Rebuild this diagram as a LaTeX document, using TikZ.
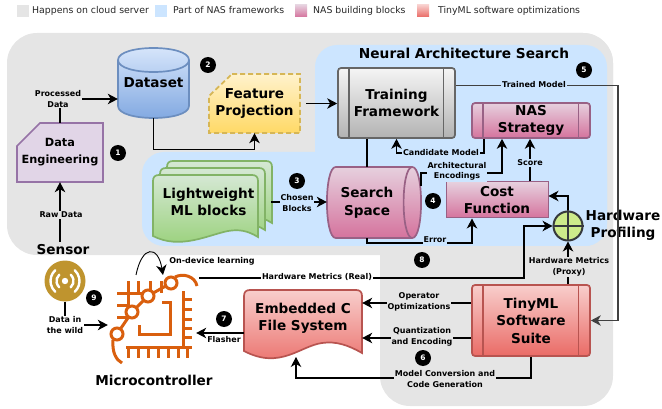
\documentclass[tikz,border=0pt]{standalone}
\usepackage{fontspec}
\setmainfont{DejaVu Sans}
\usetikzlibrary{calc}
\usetikzlibrary{arrows.meta}
\definecolor{cloudgray}{HTML}{E5E5E5}
\definecolor{nasblue}{HTML}{CCE5FF}
\definecolor{nasline}{HTML}{996185}
\definecolor{nastop}{HTML}{E6D0DE}
\definecolor{nasbot}{HTML}{D5739D}
\definecolor{tinyline}{HTML}{B85450}
\definecolor{tinytop}{HTML}{F8CECC}
\definecolor{tinybot}{HTML}{EA6B66}
\definecolor{chipcolor}{HTML}{D95F0E}
\definecolor{engfill}{HTML}{E1D5E7}
\definecolor{engline}{HTML}{9673A6}
\definecolor{settop}{HTML}{DAE8FC}
\definecolor{setbot}{HTML}{7EA6E0}
\definecolor{setline}{HTML}{6C8EBF}
\definecolor{feattop}{HTML}{FFF2CC}
\definecolor{featbot}{HTML}{FFD966}
\definecolor{featline}{HTML}{D6B656}
\definecolor{mltop}{HTML}{D5E8D4}
\definecolor{mlbot}{HTML}{97D077}
\definecolor{mlline}{HTML}{82B366}
\definecolor{addfill}{HTML}{CDEB8B}
\definecolor{addline}{HTML}{36393D}
\definecolor{sensorfill}{HTML}{BF942E}
\newcommand{\blockfont}{\fontsize{13.6pt}{17.5pt}\selectfont\bfseries}
\newcommand{\midfont}{\fontsize{11.3pt}{17pt}\selectfont\bfseries}
\newcommand{\edgefont}{\fontsize{8pt}{10.4pt}\selectfont\bfseries}
\tikzset{
  flow/.style={line width=1.1pt,-{Stealth[length=10pt,width=10.5pt,inset=3pt]}},
  plainflow/.style={line width=1.1pt},
  lbl/.style={font=\edgefont,align=center,inner sep=1pt},
  blocktxt/.style={font=\blockfont,align=center,inner sep=0pt},
  nasfill/.style={top color=nastop,bottom color=nasbot,draw=nasline,line width=1.7pt},
  tinyfill/.style={top color=tinytop,bottom color=tinybot,draw=tinyline,line width=1.7pt},
  procbox/.style={blocktxt,rounded corners=3pt},
  badge/.style={circle,fill=black,text=white,inner sep=0pt,minimum size=16pt,font=\fontsize{7.5pt}{8pt}\selectfont\bfseries},
  swatch/.style={minimum size=12pt,inner sep=0pt},
  legendtxt/.style={font=\fontsize{9.35pt}{11pt}\selectfont,text=black!85,anchor=west,inner sep=0pt},
  chipline/.style={draw=chipcolor,line width=3pt},
}
\begin{document}
\begin{tikzpicture}[x=1pt,y=-1pt]
    \useasboundingbox (0,0) rectangle (662,409);

    % legenda
    \node[swatch,fill=cloudgray] (keycloud) at (23,11) {};
    \node[legendtxt] (txtcloud) at (32,10.5) {Happens on cloud server};
    \node[swatch,fill=nasblue] (keynas) at (161,11) {};
    \node[legendtxt] (txtnas) at (173,10.5) {Part of NAS frameworks};
    \node[swatch,top color=nastop,bottom color=nasbot] (keyblock) at (301,11) {};
    \node[legendtxt] (txtblock) at (313,10.5) {NAS building blocks};
    \node[swatch,top color=tinytop,bottom color=tinybot] (keytiny) at (423,11) {};
    \node[legendtxt] (txttiny) at (438,10.5) {TinyML software optimizations};

    % daerah latar
    \fill[cloudgray,rounded corners=30pt] (7,33) rectangle (613,255);
    \fill[cloudgray,rounded corners=30pt] (380,33) rectangle (613,406);
    \fill[nasblue,rounded corners=22pt] (315,45) rectangle (607,246);
    \fill[nasblue,rounded corners=22pt] (142,152) rectangle (607,246);

    % bentuk-bentuk blok
    \draw[fill=engfill,draw=engline,line width=1.7pt]
        (40,123) -- (103,123) -- (103,182) -- (17,182) -- (17,146) -- cycle;
    \node[blocktxt,font=\midfont,minimum width=86pt,minimum height=59pt] (dataeng) at (60,152.5) {Data\\Engineering};

    \draw[top color=settop,bottom color=setbot,draw=setline,line width=1.7pt]
        (118,60) .. controls (118,44) and (189,44) .. (189,60) -- (189,106) .. controls (189,122) and (118,122) .. (118,106) -- cycle;
    \draw[draw=setline,line width=1.7pt] (118,60) .. controls (118,76) and (189,76) .. (189,60);
    \node[blocktxt,minimum width=71pt,minimum height=70pt] (dataset) at (153.5,83) {Dataset};

    \draw[top color=feattop,bottom color=featbot,draw=featline,line width=1.7pt,dash pattern=on 5pt off 3pt]
        (232,74) -- (300,74) -- (300,133) -- (209,133) -- (209,96) -- cycle;
    \node[blocktxt,minimum width=91pt,minimum height=59pt] (feature) at (254.5,103.5) {Feature\\Projection};

    \node[procbox,top color=black!4,bottom color=black!30,draw=black!60,line width=1.7pt,minimum width=117pt,minimum height=70pt] (train) at (396.5,103) {Training\\Framework};
    \node[procbox,nasfill,minimum width=118pt,minimum height=35pt] (strategy) at (531,120.5) {NAS\\Strategy};
    \node[procbox,tinyfill,minimum width=118pt,minimum height=71pt] (tiny) at (531,320.5) {TinyML\\Software\\Suite};
    \node[blocktxt,nasfill,line width=1pt,minimum width=102pt,minimum height=36pt] (cost) at (497,200) {Cost\\Function};
    \foreach \n/\c in {train/black!60,strategy/nasline,tiny/tinyline}{
        \draw[draw=\c,line width=1.7pt] ($(\n.north west)+(12,0)$) -- ($(\n.south west)+(12,0)$);
        \draw[draw=\c,line width=1.7pt] ($(\n.north east)+(-12.5,0)$) -- ($(\n.south east)+(-12.5,0)$);
    }

    % search space
    \draw[nasfill] (335.7,167) .. controls (324,167) and (324,238) .. (335.7,238) -- (412.3,238) .. controls (424,238) and (424,167) .. (412.3,167) -- cycle;
    \draw[draw=nasline,line width=1.7pt] (412.3,167) .. controls (400.7,167) and (400.7,238) .. (412.3,238);
    \node[blocktxt,minimum width=80pt,minimum height=71pt] (space) at (367,202.5) {Search\\Space};
    \coordinate (spaceout) at (421,186);

    % lightweight blocks
    \foreach \d in {14,7,0}{
        \draw[shift={(\d,-\d)},top color=mltop,bottom color=mlbot,draw=mlline,line width=1.7pt]
            (153,181) .. controls (153,177) and (155,175) .. (159,175) -- (252,175) .. controls (256,175) and (258,177) .. (258,181)
            -- (258,237) .. controls (248,231) and (240,229) .. (228,231) .. controls (208,235) and (180,250) .. (153,236) -- cycle;
    }
    \node[blocktxt,minimum width=105pt,minimum height=54pt] (blocks) at (208.5,202) {Lightweight\\ML blocks};
    \coordinate (blocksout) at (271,202);

    % embedded file system
    \draw[tinyfill] (244,296) .. controls (244,292) and (246,290) .. (250,290) -- (356,290) .. controls (360,290) and (362,292) .. (362,296)
        -- (362,353) .. controls (348,345) and (336,341) .. (322,343) .. controls (300,346) and (280,370) .. (244,351) -- cycle;
    \node[blocktxt,minimum width=118pt,minimum height=57pt] (embedded) at (303,318.5) {Embedded C\\File System};
    \coordinate (embeddedin) at (296,357);

    % hardware profiling
    \node[circle,fill=addfill,draw=addline,line width=2pt,minimum size=29pt,inner sep=0pt] (adder) at (568,226) {};
    \draw[draw=addline,line width=1.6pt] (adder.north) -- (adder.south);
    \draw[draw=addline,line width=1.6pt] (adder.west) -- (adder.east);
    \node[blocktxt] (hwprofile) at (623,225.5) {Hardware\\Profiling};

    % sensor
    \node[circle,fill=sensorfill,minimum size=41pt,inner sep=0pt] (sensor) at (65,281) {};
    \fill[white] (sensor.center) circle (3.2pt);
    \foreach \r in {8.5,14.5}{
        \draw[white,line width=2.4pt,line cap=round] (sensor.center) ++(-48:\r pt) arc[start angle=-48,end angle=48,radius=\r pt];
        \draw[white,line width=2.4pt,line cap=round] (sensor.center) ++(132:\r pt) arc[start angle=132,end angle=228,radius=\r pt];
    }
    \node[blocktxt,inner ysep=3pt] (sensortxt) at (63,250) {Sensor};

    % mikrokontroler
    \node[inner sep=0pt,minimum width=88pt,minimum height=90pt] (mcu) at (152,320) {};
    \foreach \x in {128,138,150,161}
        \draw[chipline] (\x,281) -- (\x,293);
    \draw[chipline] (128,293) -- (128,318);
    \draw[chipline] (117,293) -- (143,293);
    \foreach \y in {305,317}
        \draw[chipline] (117,\y) -- (128,\y);
    \draw[chipline] (183,291) -- (183,347);
    \foreach \y in {299,309,319,328,337,347}
        \draw[chipline] (183,\y) -- (192,\y);
    \draw[chipline] (126,347) -- (192,347);
    \foreach \x in {128,138,148,158,168,178,187}
        \draw[chipline] (\x,347) -- (\x,358);
    \draw[chipline] (162,302) -- (170,302) -- (170,334) -- (139,334) -- (139,325);
    \draw[chipline] (171,283) -- (148,296) -- (132,312) -- (117,334);
    \draw[chipline] (175,277) .. controls (183,273) and (195,276) .. (197,286);
    \draw[chipline] (113,340) .. controls (112,352) and (116,360) .. (122,363);
    \foreach \x/\y in {171/283,148/296,132/312,117/334}
        \draw[chipline,fill=white] (\x,\y) circle (6pt);
    \node[blocktxt] (mcutxt) at (154,380) {Microcontroller};
    \coordinate (mcuout) at (199,278);
    \coordinate (loopa) at (136,275);
    \coordinate (loopb) at (163,275);

    % tulisan pada panah
    \node[font=\fontsize{13.7pt}{15pt}\selectfont\bfseries,inner sep=0pt] (nastitle) at (464,53) {Neural Architecture Search};
    \coordinate (rawpos) at (61,215);
    \coordinate (procpos) at (58,99);
    \coordinate (chosenpos) at (297,203);
    \coordinate (candpos) at (441,153);
    \coordinate (archpos) at (457,171.5);
    \coordinate (archturn) at (502,173);
    \coordinate (scorepos) at (530,163);
    \coordinate (errorturn) at (472,243);
    \coordinate (errorpos) at (435,240);
    \coordinate (trainedpos) at (534,85);
    \coordinate (realpos) at (317,277);
    \coordinate (realturn) at (524,278);
    \coordinate (proxypos) at (569,267);
    \coordinate (oppos) at (419,302);
    \coordinate (opline) at (420,303);
    \coordinate (quantpos) at (422,337);
    \coordinate (quantline) at (420,338);
    \coordinate (convpos) at (445,379);
    \coordinate (convturn) at (296,378);
    \coordinate (flashline) at (220,333);
    \coordinate (wildpos) at (65,325);
    \coordinate (trainedturn) at (618,85.5);

    % panah-panah
    \draw[flow] (sensortxt.north -| dataeng.south) -- (dataeng.south);
    \draw[flow] (dataeng.north) |- (dataset.west |- procpos);
    \draw[flow] (dataset.south) -- ++(0,31.5) -| (feature.south);
    \draw[flow,shorten <=6pt] (feature.east) -- (train.west |- feature.east);
    \draw[flow] (blocksout) -- (space.west |- blocksout);
    \draw[plainflow] (train.south -| space.north) -- (space.north);
    \draw[flow] ([xshift=-47pt]strategy.south) |- (candpos) -| (train.south);
    \draw[flow] (spaceout) |- (archturn) -- (archturn |- strategy.south);
    \draw[flow] (cost.north -| scorepos) -- (strategy.south -| scorepos);
    \draw[flow] (space.south) |- (errorturn) -- (errorturn |- cost.south);
    \draw[flow] (adder.north) |- ([yshift=4pt]cost.east);
    \draw[flow] (mcuout) -- (realturn) |- (adder.west);
    \draw[flow] (tiny.north -| adder.south) -- (adder.south);
    \draw[flow,draw=black!75] (train.east |- trainedturn) -- (trainedturn) |- (tiny.east);
    \draw[flow] (tiny.west |- opline) -- (embedded.east |- opline);
    \draw[flow] (tiny.west |- quantline) -- (embedded.east |- quantline);
    \draw[flow] (tiny.south) |- (convturn) -- (embeddedin);
    \draw[flow] (embedded.west |- flashline) -- (mcu.east |- flashline);
    \draw[plainflow] (sensor.south) -- (wildpos);
    \draw[flow] (wildpos) -- (mcu.west |- wildpos);
    \draw[flow,line width=.9pt] (loopa) .. controls (142,245) and (158,245) .. (loopb);

    % label panah
    \node[lbl,fill=cloudgray] (rawlbl) at (rawpos) {Raw Data};
    \node[lbl,fill=cloudgray] (proclbl) at (procpos) {Processed\\Data};
    \node[lbl,fill=nasblue] (chosenlbl) at (chosenpos) {Chosen\\Blocks};
    \node[lbl,fill=nasblue] (candlbl) at (candpos) {Candidate Model};
    \node[lbl,fill=nasblue] (archlbl) at (archpos) {Architectural\\Encodings};
    \node[lbl,fill=nasblue] (scorelbl) at (scorepos) {Score};
    \node[lbl,fill=nasblue] (errorlbl) at (errorpos) {Error};
    \node[lbl,fill=nasblue] (trainedlbl) at (trainedpos) {Trained Model};
    \node[lbl,fill=white] (reallbl) at (realpos) {Hardware Metrics (Real)};
    \node[lbl,fill=cloudgray] (proxylbl) at (proxypos) {Hardware Metrics\\(Proxy)};
    \node[lbl,fill=cloudgray] (oplbl) at (oppos) {Operator\\Optimizations};
    \node[lbl,fill=cloudgray] (quantlbl) at (quantpos) {Quantization\\and Encoding};
    \node[lbl,fill=cloudgray] (convlbl) at (convpos) {Model Conversion and\\Code Generation};
    \node[lbl,fill=white] (wildlbl) at (wildpos) {Data in\\the wild};
    \node[lbl] (flashlbl) at (224,340) {Flasher};
    \node[lbl] (looplbl) at (212,261) {On-device learning};

    % nomor langkah
    \foreach \n/\x/\y in {1/118/153,2/208/65,3/297/181,4/433/201,5/584/70,6/423/358,7/224/319,8/422/260,9/94/298}
        \node[badge] (badge\n) at (\x,\y) {\n};
\end{tikzpicture}
\end{document}
